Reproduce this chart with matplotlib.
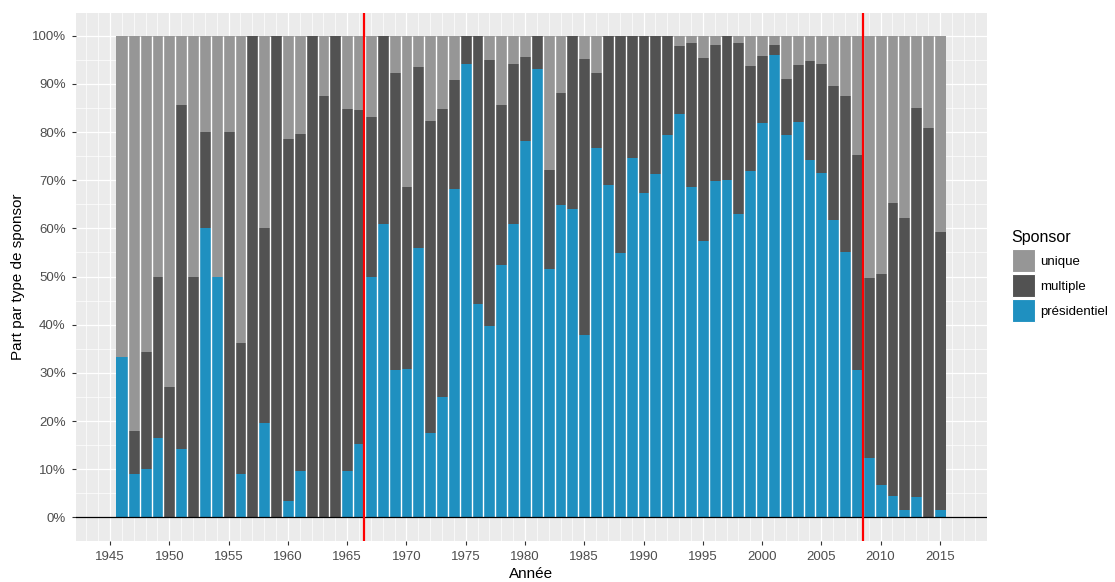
import numpy as np
import matplotlib
matplotlib.use("Agg")
import matplotlib.pyplot as plt
from matplotlib.patches import Patch
from matplotlib.ticker import FixedLocator, FuncFormatter

plt.rcParams['font.family'] = ['Liberation Sans', 'DejaVu Sans']

years = list(range(1946, 2016))

presidentiel = [33.3, 8.9, 10.1, 16.4, 0.0, 14.1, 0.0, 60.0, 50.0, 0.0,
                8.9, 0.0, 19.5, 0.0, 3.4, 9.7, 0.0, 0.0, 0.0, 9.7,
                15.2, 50.0, 60.9, 30.6, 30.9, 56.0, 17.5, 24.9, 68.1, 94.1,
                44.3, 39.7, 52.3, 60.9, 78.2, 93.1, 51.6, 64.8, 64.1, 37.8,
                76.8, 69.1, 54.9, 74.7, 67.3, 71.2, 79.5, 83.7, 68.7, 57.4,
                69.9, 70.1, 62.9, 72.0, 81.8, 96.0, 79.3, 82.1, 74.3, 71.6,
                61.8, 55.1, 30.6, 12.3, 6.7, 4.4, 1.6, 4.2, 0.0, 1.5]

multiple = [0.0, 9.0, 24.3, 33.6, 27.1, 71.5, 50.0, 20.0, 0.0, 80.0,
            27.3, 100.0, 40.5, 100.0, 75.1, 70.0, 100.0, 87.4, 100.0, 75.2,
            69.4, 33.1, 39.1, 61.6, 37.8, 37.5, 64.8, 60.0, 22.7, 5.9,
            55.7, 55.3, 33.3, 33.2, 17.3, 6.9, 20.6, 23.3, 35.9, 57.4,
            15.4, 30.9, 45.1, 25.3, 32.7, 28.8, 20.5, 14.1, 29.8, 38.0,
            28.2, 29.9, 35.6, 21.7, 14.0, 2.1, 11.7, 11.8, 20.5, 22.5,
            27.7, 32.3, 44.6, 37.5, 43.9, 60.8, 60.5, 80.8, 80.8, 57.7]

unique = [66.7, 82.1, 65.6, 50.0, 72.9, 14.4, 50.0, 20.0, 50.0, 20.0,
          63.8, 0.0, 40.0, 0.0, 21.5, 20.3, 0.0, 12.6, 0.0, 15.1,
          15.4, 16.9, 0.0, 7.8, 31.3, 6.5, 17.7, 15.1, 9.2, 0.0,
          0.0, 5.0, 14.4, 5.9, 4.5, 0.0, 27.8, 11.9, 0.0, 4.8,
          7.8, 0.0, 0.0, 0.0, 0.0, 0.0, 0.0, 2.2, 1.5, 4.6,
          1.9, 0.0, 1.5, 6.3, 4.2, 1.9, 9.0, 6.1, 5.2, 5.9,
          10.5, 12.6, 24.8, 50.2, 49.4, 34.8, 37.9, 15.0, 19.2, 40.8]

events = [1966.45, 2008.55]
x_ticks = list(range(1945, 2016, 5))
y_ticks = list(range(0, 101, 10))

c_pres = '#1F90C0'
c_mult = '#525252'
c_uniq = '#969696'

W, H = 1115, 582
fig = plt.figure(figsize=(W / 100, H / 100), dpi=100)
ax = fig.add_axes([75.7 / W, 1 - 541.4 / H, (987.3 - 75.7) / W, (541.4 - 12.7) / H])
ax.set_facecolor('#EBEBEB')
for s in ax.spines.values():
    s.set_visible(False)

ax.set_xlim(1942.1, 2019.0)
ax.set_ylim(-5.0, 104.8)

# grid
ax.xaxis.set_major_locator(FixedLocator(x_ticks))
ax.xaxis.set_minor_locator(FixedLocator([y for y in range(1943, 2019) if y not in x_ticks]))
ax.yaxis.set_major_locator(FixedLocator(y_ticks))
ax.yaxis.set_minor_locator(FixedLocator([v + 5 for v in y_ticks[:-1]] + [-5]))
ax.grid(which='major', color='white', linewidth=0.9)
ax.grid(which='minor', color='white', linewidth=0.5)
ax.set_axisbelow(True)

yrs = np.array(years, dtype=float)
p = np.array(presidentiel)
m = np.array(multiple)
u = np.array(unique)
ax.bar(yrs, p, width=1.0, color=c_pres, linewidth=0, zorder=2)
ax.bar(yrs, m, width=1.0, bottom=p, color=c_mult, linewidth=0, zorder=2)
ax.bar(yrs, u, width=1.0, bottom=p + m, color=c_uniq, linewidth=0, zorder=2)
# white separations between bars
ax.vlines(yrs[:-1] + 0.5, 0, 100, color='white', linewidth=1.0, zorder=3)

ax.axhline(0, color='black', linewidth=0.9, zorder=4)
for e in events:
    ax.axvline(e, color='#FF0000', linewidth=1.6, zorder=5)

ax.yaxis.set_major_formatter(FuncFormatter(lambda v, pos: f"{int(v)}%"))
ax.tick_params(axis='both', which='major', length=3.2, width=0.8, color='#333333',
               labelcolor='#4D4D4D', labelsize=9.5)
ax.tick_params(axis='y', pad=4)
ax.tick_params(axis='x', pad=3.5)
ax.tick_params(which='minor', length=0)

fig.text(531.5 / W, 1 - 574 / H, 'Année', ha='center', va='center', fontsize=11, color='black')
fig.text(18 / W, 1 - 276.5 / H, 'Part par type de sponsor', ha='center', va='center',
         rotation=90, fontsize=11, color='black')

handles = [Patch(facecolor=c_uniq, edgecolor='white', linewidth=0.8, label='unique'),
           Patch(facecolor=c_mult, edgecolor='white', linewidth=0.8, label='multiple'),
           Patch(facecolor=c_pres, edgecolor='white', linewidth=0.8, label='présidentiel')]
leg = fig.legend(handles=handles, title='Sponsor', loc='upper left',
                 bbox_to_anchor=(1011.5 / W, 1 - 230 / H), frameon=False,
                 fontsize=9.5, title_fontsize=11.5, handlelength=1.78, handleheight=2.3,
                 labelspacing=0.15, handletextpad=0.4, borderpad=0, borderaxespad=0,
                 alignment='left')
leg._legend_box.sep = 3

fig.savefig('out.png', dpi=100)
